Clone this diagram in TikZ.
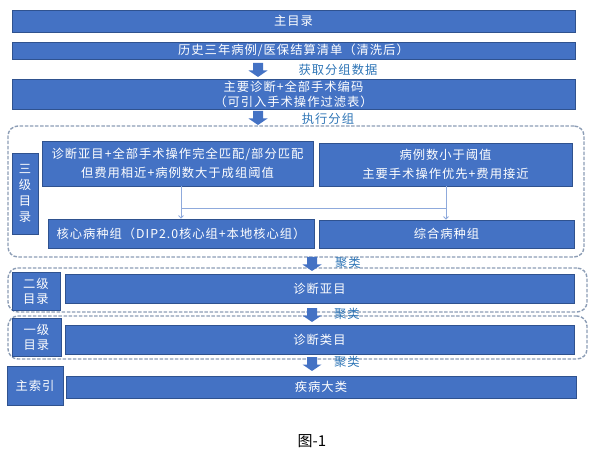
\documentclass[tikz,border=0pt]{standalone}
\usepackage{fontspec}
\setmainfont{Noto Sans CJK SC}[LetterSpace=8]
\newfontfamily\capfont{Noto Sans CJK SC}
\usetikzlibrary{arrows.meta}
\definecolor{boxblue}{HTML}{4472C4}
\definecolor{boxedge}{HTML}{2F528F}
\definecolor{labelblue}{HTML}{2E75B6}
\definecolor{dashgray}{HTML}{8C9DB5}
\definecolor{linkblue}{HTML}{8FAADC}
\tikzset{
  box/.style={draw=boxedge, line width=0.6bp, fill=boxblue, text=white, inner sep=0pt,
    font=\fontsize{12.3bp}{15bp}\selectfont, align=center},
  groupbox/.style={draw=dashgray, line width=1.4bp, dash pattern=on 3.5bp off 1.6bp,
    rounded corners=10bp, inner sep=0pt},
  lbl/.style={text=labelblue, inner sep=0pt, font=\fontsize{12.3bp}{14bp}\selectfont},
  link/.style={draw=linkblue, line width=0.9bp},
  blockdown/.pic={\fill[boxblue] (-5,0) -- (5,0) -- (5,7.5) -- (9.5,7.5) -- (0,14) -- (-9.5,7.5) -- (-5,7.5) -- cycle;}
}
\begin{document}
\begin{tikzpicture}[x=1bp,y=-1bp]
\useasboundingbox (0,0) rectangle (594,455);

% dashed groups
\node[groupbox, minimum width=576bp, minimum height=131bp] (g3) at (296,191.5) {};
\node[groupbox, minimum width=579bp, minimum height=44bp] (g2) at (297.5,290) {};
\node[groupbox, minimum width=579bp, minimum height=43bp] (g1) at (297.5,337.5) {};

% top boxes
\node[box, minimum width=563bp, minimum height=22bp] (top) at (293.5,21) {主目录};
\node[box, minimum width=563bp, minimum height=17bp] (hist) at (293.5,50.5) {历史三年病例/医保结算清单（清洗后）};
\node[box, minimum width=563bp, minimum height=30bp] (code) at (293.5,94) {主要诊断+全部手术编码\\（可引入手术操作过滤表）};

\pic at (258,63) {blockdown};
\node[lbl] (l1) at (338,70) {获取分组数据};
\pic at (258,111) {blockdown};
\node[lbl] (l2) at (328,119) {执行分组};

% level 3
\node[box, minimum width=26bp, minimum height=81bp, font=\fontsize{12.3bp}{16bp}\selectfont] (lv3) at (25,193.5) {三\\级\\目\\录};
\node[box, minimum width=271bp, minimum height=45bp, font=\fontsize{12.3bp}{18.5bp}\selectfont] (a) at (177.5,163.5) {诊断亚目+全部手术操作完全匹配/部分匹配\\但费用相近+病例数大于成组阈值};
\node[box, minimum width=253bp, minimum height=43bp, font=\fontsize{12.3bp}{19bp}\selectfont] (b) at (445.5,164.5) {病例数小于阈值\\主要手术操作优先+费用接近};
\node[box, minimum width=266bp, minimum height=29bp] (c) at (181,233.5) {核心病种组（DIP2.0核心组+本地核心组）};
\node[box, minimum width=255bp, minimum height=28bp] (d) at (446.5,234) {综合病种组};

\coordinate (ja) at (181,208);
\coordinate (jb) at (446,208);
\draw[link] (a.south -| ja) -- (ja) -- (jb);
\draw[link] (b.south -| jb) -- (jb);
\draw[link, -{Straight Barb[length=2.5bp, width=5bp]}] (ja) -- (ja |- c.north);
\draw[link, -{Straight Barb[length=2.5bp, width=5bp]}] (jb) -- (jb |- d.north);

\pic at (312,257) {blockdown};
\node[lbl] (l3) at (348,263) {聚类};

% level 2
\node[box, minimum width=48bp, minimum height=38bp] (lv2) at (36,291) {二级\\目录};
\node[box, minimum width=509bp, minimum height=29bp] (e) at (319.5,288.5) {诊断亚目};

\pic at (312,308) {blockdown};
\node[lbl] (l4) at (347,314) {聚类};

% level 1
\node[box, minimum width=49bp, minimum height=38bp] (lv1) at (36.5,337) {一级\\目录};
\node[box, minimum width=509bp, minimum height=29bp] (f) at (319.5,339.5) {诊断类目};

\pic at (312,357) {blockdown};
\node[lbl] (l5) at (347,362) {聚类};

% main index
\node[box, minimum width=56bp, minimum height=39bp] (idx) at (35,385.5) {主索引};
\node[box, minimum width=510bp, minimum height=22bp] (g) at (321,387) {疾病大类};

\node[inner sep=0pt, font=\capfont\fontsize{15bp}{17bp}\selectfont] (cap) at (312,441) {图-1};
\end{tikzpicture}
\end{document}
